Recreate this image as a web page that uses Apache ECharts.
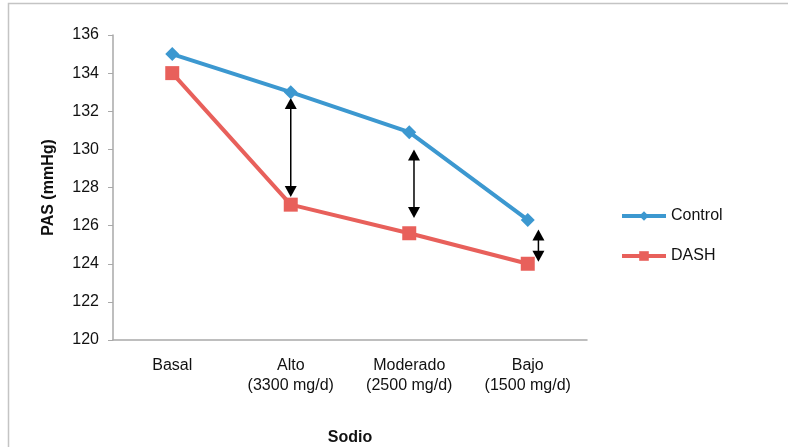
<!DOCTYPE html>
<html><head><meta charset="utf-8">
<script src="https://cdn.jsdelivr.net/npm/echarts@6/dist/echarts.min.js"></script>
<style>html,body{margin:0;padding:0;background:#fff}#c{width:788px;height:447px}</style>
</head><body><div id="c"></div>
<script>
const categories = ['Basal', 'Alto\n(3300 mg/d)', 'Moderado\n(2500 mg/d)', 'Bajo\n(1500 mg/d)'];
const controlValues = [135.0, 133.0, 130.9, 126.3];
const dashValues = [134.0, 127.1, 125.6, 124.0];
const yTicks = {min: 120, max: 136, interval: 2};
// double-headed arrows: [category position, top value, bottom value]
const arrowPos = [1.0, 2.04, 3.09];
const arrowTop = [132.7, 130.0, 125.8];
const arrowBottom = [127.5, 126.4, 124.1];

const chart = echarts.init(document.getElementById('c'));
const font = 'Liberation Sans, Arial, sans-serif';
const arrowData = arrowPos.map((p, i) => [p, arrowTop[i], arrowBottom[i]]);
chart.setOption({
  animation: false,
  backgroundColor: '#fff',
  textStyle: {fontFamily: font},
  graphic: [{type: 'rect', shape: {x: 8.5, y: 3.5, width: 800, height: 460},
    style: {fill: 'none', stroke: '#c4c4c4', lineWidth: 1.5}, silent: true}],
  grid: {left: 113, right: 201, top: 35, bottom: 107, containLabel: false, outerBoundsMode: 'none'},
  legend: {
    orient: 'vertical', left: 620, top: 208, padding: 0, itemGap: 24, itemWidth: 44, itemHeight: 12,
    textStyle: {fontSize: 16, color: '#111', fontFamily: font},
    lineStyle: {width: 4},
    data: ['Control', 'DASH']
  },
  xAxis: [{
    type: 'category', data: categories, boundaryGap: true,
    axisLine: {lineStyle: {color: '#a9a9a9', width: 1.5}},
    axisTick: {show: false},
    axisLabel: {fontSize: 16, color: '#111', margin: 16, lineHeight: 20, fontFamily: font},
    name: 'Sodio', nameLocation: 'middle', nameGap: 90,
    nameTextStyle: {fontSize: 16, fontWeight: 'bold', color: '#111', fontFamily: font}
  }, {
    type: 'value', min: -0.5, max: 3.5, show: false
  }],
  yAxis: {
    type: 'value', min: yTicks.min, max: yTicks.max, interval: yTicks.interval,
    axisLine: {show: true, onZero: false, lineStyle: {color: '#a9a9a9', width: 1.5}},
    axisTick: {show: true, length: 5, inside: false, lineStyle: {color: '#a9a9a9'}},
    splitLine: {show: false},
    axisLabel: {fontSize: 16, color: '#111', margin: 14, fontFamily: font},
    name: 'PAS (mmHg)', nameLocation: 'middle', nameGap: 56, nameRotate: 90,
    nameTextStyle: {fontSize: 16, fontWeight: 'bold', color: '#111', fontFamily: font}
  },
  series: [{
    name: 'Control', type: 'line', data: controlValues,
    symbol: 'diamond', symbolSize: 14, showSymbol: true,
    lineStyle: {color: '#3c98d0', width: 4},
    itemStyle: {color: '#3c98d0'}
  }, {
    name: 'DASH', type: 'line', data: dashValues,
    symbol: 'rect', symbolSize: 14,
    lineStyle: {color: '#e8605b', width: 4},
    itemStyle: {color: '#e8605b'}
  }, {
    type: 'custom', xAxisIndex: 1, data: arrowData, silent: true,
    renderItem: function (params, api) {
      const a = api.coord([api.value(0), api.value(1)]);
      const b = api.coord([api.value(0), api.value(2)]);
      const h = 11, w = 6;
      return {type: 'group', children: [
        {type: 'line', shape: {x1: a[0], y1: a[1] + h - 1, x2: b[0], y2: b[1] - h + 1},
          style: {stroke: '#000', lineWidth: 1.5}},
        {type: 'polygon', shape: {points: [[a[0], a[1]], [a[0] - w, a[1] + h], [a[0] + w, a[1] + h]]},
          style: {fill: '#000'}},
        {type: 'polygon', shape: {points: [[b[0], b[1]], [b[0] - w, b[1] - h], [b[0] + w, b[1] - h]]},
          style: {fill: '#000'}}
      ]};
    }
  }]
});
</script></body></html>
